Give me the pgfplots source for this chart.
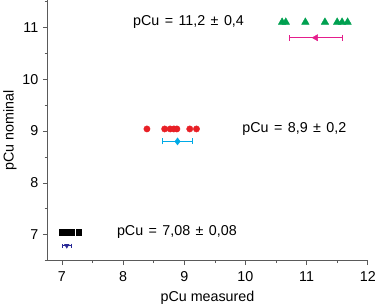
\documentclass[border=0pt]{standalone}
\usepackage{pgfplots}
\pgfplotsset{compat=1.18}
\usepackage{fontspec}
\setmainfont{Liberation Sans}
\definecolor{cgreen}{RGB}{0,160,80}
\definecolor{cred}{RGB}{232,32,38}
\definecolor{cmag}{RGB}{228,30,140}
\definecolor{ccyan}{RGB}{0,170,230}
\definecolor{cnavy}{RGB}{40,40,150}
\definecolor{caxis}{RGB}{90,90,90}
\newcommand{\gap}{\hspace{0.38em}}
\begin{document}
\begin{tikzpicture}
\begin{axis}[
  scale only axis,
  width=324bp, height=263bp,
  xmin=6.76, xmax=12, ymin=6.5, ymax=11.52,
  axis x line*=bottom, axis y line*=left,
  axis line style={caxis, line width=0.8pt},
  tick align=outside,
  tick style={caxis, line width=0.6pt},
  major tick length=4.5bp, minor tick length=2.5bp,
  xtick={7,8,9,10,11,12}, ytick={7,8,9,10,11},
  minor xtick={7.5,8.5,9.5,10.5,11.5},
  minor ytick={6.5,7.5,8.5,9.5,10.5,11.5},
  /pgf/number format/assume math mode=true,
  ticklabel style={font=\fontsize{14.5}{16}\selectfont},
  xticklabel style={yshift=-3bp},
  yticklabel style={xshift=-1bp},
  label style={font=\fontsize{14.5}{16}\selectfont},
  xlabel={pCu measured}, ylabel={pCu nominal},
  xlabel style={yshift=-3bp},
  ylabel style={yshift=-1bp},
  clip=false,
]
% green triangles
\addplot[only marks, mark=triangle*, mark size=4.4bp, color=cgreen] coordinates {
(10.60,11.1) (10.66,11.1) (10.98,11.1) (11.30,11.1) (11.50,11.1) (11.58,11.1) (11.67,11.1)};
% magenta mean
\addplot[only marks, mark=triangle*, mark options={rotate=90}, mark size=3.6bp, color=cmag,
  error bars/.cd, x dir=both, x explicit, error mark=|, error bar style={line width=0.7pt, cmag},
  error mark options={mark size=3bp, line width=0.7pt, cmag}] coordinates {
(11.15,10.8) +- (0.44,0)};
% red circles
\addplot[only marks, mark=*, mark size=3.2bp, color=cred] coordinates {
(8.39,9.04) (8.68,9.04) (8.77,9.04) (8.83,9.04) (8.88,9.04) (9.09,9.04) (9.20,9.04)};
% cyan mean
\addplot[only marks, mark=diamond*, mark size=3.6bp, color=ccyan,
  error bars/.cd, x dir=both, x explicit, error mark=|, error bar style={line width=0.7pt, ccyan},
  error mark options={mark size=3bp, line width=0.7pt, ccyan}] coordinates {
(8.89,8.8) +- (0.245,0)};
% black squares
\addplot[only marks, mark=square*, mark size=2.7bp, color=black] coordinates {
(7.00,7.05) (7.03,7.05) (7.06,7.05) (7.10,7.05) (7.13,7.05) (7.16,7.05) (7.27,7.05)};
% navy mean
\addplot[only marks, mark=triangle*, mark options={rotate=180}, mark size=2.7bp, color=cnavy,
  error bars/.cd, x dir=both, x explicit, error mark=|, error bar style={line width=0.6pt, cnavy},
  error mark options={mark size=2bp, line width=0.6pt, cnavy}] coordinates {
(7.08,6.79) +- (0.075,0)};
\node[font=\fontsize{14.5}{16}\selectfont] at (axis cs:9.07,11.1) {pCu\gap=\gap11,2\gap±\gap0,4};
\node[font=\fontsize{14.5}{16}\selectfont] at (axis cs:10.8,9.03) {pCu\gap=\gap8,9\gap±\gap0,2};
\node[font=\fontsize{14.5}{16}\selectfont] at (axis cs:8.88,7.05) {pCu\gap=\gap7,08\gap±\gap0,08};
\end{axis}
\end{tikzpicture}
\end{document}
